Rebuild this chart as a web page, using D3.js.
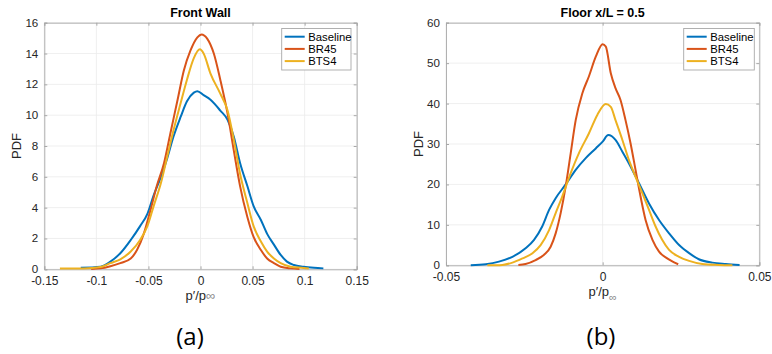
<!DOCTYPE html>
<html><head><meta charset="utf-8">
<script src="https://cdn.jsdelivr.net/npm/d3@7"></script>
<style>
body{margin:0;background:#fff;}
svg{display:block;font-family:"Liberation Sans",Arial,Helvetica,sans-serif;}
</style></head>
<body><svg id="c" width="772" height="354"></svg>
<script>
// ---------- Data ----------
const seriesNames = ["Baseline", "BR45", "BTS4"];
const seriesColors = ["#0072BD", "#D95319", "#EDB120"];

// Panel (a): Front Wall  [p'/p_inf, PDF]
const wallBaseline = [[-0.115,0.1],[-0.096,0.17],[-0.0865,0.5],[-0.077,1.04],[-0.067,1.9],[-0.058,2.8],[-0.051,3.6],[-0.045,4.8],[-0.038,6.0],[-0.032,7.2],[-0.026,8.6],[-0.019,9.9],[-0.013,10.9],[-0.0064,11.46],[-0.003,11.56],[0.003,11.3],[0.0096,11.0],[0.019,10.3],[0.026,9.7],[0.032,8.6],[0.038,6.9],[0.045,5.4],[0.051,4.1],[0.058,3.2],[0.064,2.3],[0.0705,1.6],[0.077,0.93],[0.083,0.5],[0.0897,0.28],[0.099,0.17],[0.109,0.1],[0.118,0.06]];
const wallBR45 = [[-0.105,0.02],[-0.096,0.06],[-0.0865,0.2],[-0.077,0.4],[-0.067,0.7],[-0.061,1.25],[-0.0545,2.3],[-0.048,3.85],[-0.042,5.4],[-0.035,6.9],[-0.029,8.8],[-0.022,11.0],[-0.016,12.9],[-0.0096,14.2],[-0.003,15.05],[0.001,15.24],[0.0064,14.97],[0.0128,14.0],[0.019,12.3],[0.026,10.1],[0.032,7.7],[0.038,5.4],[0.045,3.4],[0.051,2.1],[0.058,1.25],[0.064,0.7],[0.0705,0.4],[0.077,0.17],[0.0865,0.06],[0.095,0.02]];
const wallBTS4 = [[-0.135,0.06],[-0.112,0.06],[-0.096,0.15],[-0.0865,0.4],[-0.077,0.65],[-0.067,1.15],[-0.058,1.9],[-0.051,2.8],[-0.045,4.1],[-0.038,5.6],[-0.032,7.3],[-0.026,9.0],[-0.019,10.8],[-0.013,12.3],[-0.0064,13.7],[-0.0006,14.27],[0.003,14.0],[0.0096,12.7],[0.019,11.4],[0.026,10.3],[0.032,8.4],[0.038,6.2],[0.045,4.3],[0.051,2.8],[0.058,1.8],[0.064,1.15],[0.0705,0.7],[0.077,0.4],[0.0865,0.17],[0.099,0.09],[0.104,0.05]];

// Panel (b): Floor x/L = 0.5
const floorBaseline = [[-0.0421,0],[-0.0373,0.25],[-0.0331,0.9],[-0.0288,2.1],[-0.0246,4.2],[-0.0219,6.3],[-0.0193,9.6],[-0.0171,13.7],[-0.015,16.6],[-0.0118,20.0],[-0.0086,23.6],[-0.0054,26.5],[-0.0022,28.9],[0,30.6],[0.0018,32.2],[0.0041,31.0],[0.0063,28.1],[0.0084,25.2],[0.0116,20.3],[0.0148,15.3],[0.018,11.2],[0.0212,7.9],[0.0244,5.0],[0.0276,3.0],[0.0307,1.5],[0.035,0.66],[0.0393,0.33],[0.0437,0.1]];
const floorBR45 = [[-0.0269,0.1],[-0.0246,0.33],[-0.0214,1.3],[-0.0187,2.6],[-0.0166,4.6],[-0.015,7.9],[-0.0134,12.9],[-0.0118,19.5],[-0.0102,27.7],[-0.0086,35.9],[-0.0065,42.5],[-0.0044,46.7],[-0.0022,51.6],[0,54.7],[0.001,54.1],[0.0026,47.5],[0.0041,43.8],[0.0057,40.9],[0.0073,35.9],[0.0089,30.2],[0.0105,23.6],[0.0121,17.0],[0.0137,11.2],[0.0159,6.3],[0.018,3.4],[0.0206,1.7],[0.0228,0.74],[0.0241,0.25]];
const floorBTS4 = [[-0.0368,0],[-0.032,0.1],[-0.0288,0.66],[-0.0256,1.7],[-0.0224,3.0],[-0.0198,5.0],[-0.0171,8.7],[-0.015,12.9],[-0.0129,17.0],[-0.0102,22.8],[-0.0076,27.7],[-0.0044,32.6],[-0.0017,37.2],[0.001,39.9],[0.0026,39.2],[0.0041,35.9],[0.0063,31.0],[0.0084,26.0],[0.0105,21.9],[0.0127,17.8],[0.0148,13.7],[0.0169,9.6],[0.019,6.3],[0.0212,3.8],[0.0244,2.1],[0.0276,1.1],[0.0318,0.33],[0.0371,0.1],[0.0414,0]];

const wallXTicks = [-0.15,-0.1,-0.05,0,0.05,0.1,0.15];
const wallYTicks = [0,2,4,6,8,10,12,14,16];
const floorXTicks = [-0.05,0,0.05];
const floorYTicks = [0,10,20,30,40,50,60];

// ---------- Drawing ----------
const svg = d3.select("#c");
const fmt = v => (v === 0 ? "0" : String(+v.toFixed(3)));

function panel(opt){
  const g = svg.append("g");
  const x = d3.scaleLinear().domain(opt.xDomain).range([opt.left, opt.right]);
  const y = d3.scaleLinear().domain(opt.yDomain).range([opt.bottom, opt.top]);
  // grid
  g.selectAll(".gx").data(opt.xTicks).join("line")
    .attr("x1", d=>x(d)).attr("x2", d=>x(d)).attr("y1", opt.top).attr("y2", opt.bottom)
    .attr("stroke", "#ebebeb").attr("stroke-width", 0.8);
  g.selectAll(".gy").data(opt.yTicks).join("line")
    .attr("y1", d=>y(d)).attr("y2", d=>y(d)).attr("x1", opt.left).attr("x2", opt.right)
    .attr("stroke", "#ebebeb").attr("stroke-width", 0.8);
  // axes (ticks inside)
  const xa = g.append("g").attr("transform", `translate(0,${opt.bottom})`)
    .call(d3.axisBottom(x).tickValues(opt.xTicks).tickSize(-3).tickPadding(7.5).tickFormat(fmt));
  const xt = g.append("g").attr("transform", `translate(0,${opt.top})`)
    .call(d3.axisTop(x).tickValues(opt.xTicks).tickSize(-3).tickFormat(""));
  const ya = g.append("g").attr("transform", `translate(${opt.left},0)`)
    .call(d3.axisLeft(y).tickValues(opt.yTicks).tickSize(-3).tickPadding(6).tickFormat(fmt));
  const yr = g.append("g").attr("transform", `translate(${opt.right},0)`)
    .call(d3.axisRight(y).tickValues(opt.yTicks).tickSize(-3).tickFormat(""));
  [xa,xt,ya,yr].forEach(a=>{
    a.selectAll("path.domain").attr("stroke","#a8a8a8").attr("stroke-width",0.9);
    a.selectAll(".tick line").attr("stroke","#a8a8a8");
    a.selectAll(".tick text").attr("fill","#262626").style("font-size","12px").style("font-family","Liberation Sans, Arial, sans-serif");
  });
  ya.selectAll(".tick text").style("font-size","11.6px").attr("dy","0.3em");
  // curves
  const line = d3.line().x(d=>x(d[0])).y(d=>y(d[1])).curve(d3.curveMonotoneX);
  opt.series.forEach((s,i)=>{
    g.append("path").datum(s).attr("d", line).attr("fill","none")
      .attr("stroke", seriesColors[i]).attr("stroke-width", 2).attr("stroke-linejoin","round");
  });
  // title
  g.append("text").attr("x", (opt.left+opt.right)/2).attr("y", 17).attr("text-anchor","middle")
    .style("font-weight","bold").style("font-size","12.5px").attr("fill","#000").text(opt.title);
  // y label
  g.append("text").attr("transform", `translate(${opt.yLabelX},${(opt.top+opt.bottom)/2}) rotate(-90)`)
    .attr("text-anchor","middle").style("font-size","13px").attr("fill","#262626").text("PDF");
  // x label
  const xl = g.append("text").attr("x", (opt.left+opt.right)/2).attr("y", opt.xLabelY)
    .attr("text-anchor","middle").style("font-size","13px").attr("fill","#262626");
  xl.append("tspan").text("p′/p");
  if (opt.subInf) {
    xl.append("tspan").attr("dy", 5).attr("fill","#8a8a8a").style("font-size","11px").text("∞");
  } else {
    xl.append("tspan").attr("fill","#8a8a8a").text("∞");
  }
  // legend
  const lg = g.append("g");
  lg.append("rect").attr("x", opt.legX).attr("y", 28.5).attr("width", opt.legW).attr("height", 41.5)
    .attr("fill","#fff").attr("stroke","#a8a8a8").attr("stroke-width",0.9);
  seriesNames.forEach((n,i)=>{
    const yy = 36.7 + i*12.2;
    lg.append("line").attr("x1", opt.legX+3).attr("x2", opt.legX+23).attr("y1", yy).attr("y2", yy)
      .attr("stroke", seriesColors[i]).attr("stroke-width", 2);
    lg.append("text").attr("x", opt.legX+26.5).attr("y", yy+4).style("font-size","11.3px")
      .attr("fill","#000").text(n);
  });
  // panel letter
  g.append("text").attr("x", opt.letterX).attr("y", 345).attr("text-anchor","middle")
    .style("font-family","'Open Sans', 'DejaVu Sans', sans-serif").style("font-size","24px")
    .attr("fill","#000").text(opt.letter);
}

panel({xDomain:[-0.15,0.15], yDomain:[0,16], left:44.3, right:356.7, top:22.7, bottom:269.3,
  xTicks:wallXTicks, yTicks:wallYTicks, series:[wallBaseline, wallBR45, wallBTS4],
  title:"Front Wall", yLabelX:21, xLabelY:300, subInf:false, legX:281.7, legW:69.3,
  letter:"(a)", letterX:190});
panel({xDomain:[-0.05,0.05], yDomain:[0,60], left:446, right:759.3, top:22.7, bottom:265.3,
  xTicks:floorXTicks, yTicks:floorYTicks, series:[floorBaseline, floorBR45, floorBTS4],
  title:"Floor x/L = 0.5", yLabelX:423, xLabelY:296, subInf:true, legX:683.7, legW:70.6,
  letter:"(b)", letterX:601});
</script></body></html>
